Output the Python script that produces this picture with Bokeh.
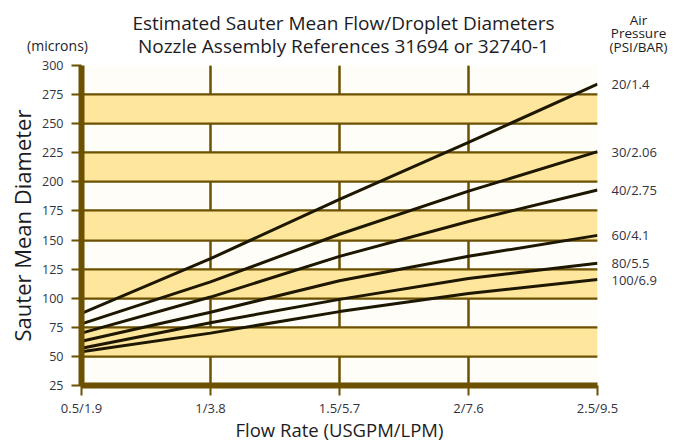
from bokeh.plotting import figure
from bokeh.models import FixedTicker, Range1d, Grid, LinearAxis
from bokeh.layouts import column
from bokeh.core.properties import value
from bokeh.embed import file_html
from bokeh.resources import INLINE

# ---- data ----
flow = [0.5, 1.0, 1.5, 2.0, 2.5]
x_tick_labels = ["0.5/1.9", "1/3.8", "1.5/5.7", "2/7.6", "2.5/9.5"]
y_ticks = [25, 50, 75, 100, 125, 150, 175, 200, 225, 250, 275, 300]

pressures = ["20/1.4", "30/2.06", "40/2.75", "60/4.1", "80/5.5", "100/6.9"]
smd_20 = [87, 134, 185, 234, 284]
smd_30 = [78, 114, 155, 192, 226]
smd_40 = [70, 101, 136, 166, 193]
smd_60 = [63, 88, 115, 136, 154]
smd_80 = [57, 79, 99, 117, 130]
smd_100 = [54, 70, 88.5, 104, 116]
series = [smd_20, smd_30, smd_40, smd_60, smd_80, smd_100]

title_lines = ["Estimated Sauter Mean Flow/Droplet Diameters",
               "Nozzle Assembly References 31694 or 32740-1"]
legend_title = ["Air", "Pressure", "(PSI/BAR)"]
unit_label = "(microns)"

# ---- style ----
FONT = "Open Sans"
GRID = "#6b5100"
GOLD = "#f0c020"
BAND = "#ffe69d"
TXT = "#33333f"
DARK = "#1c1c24"
W = 684
TOP_H = 57

# ---- header strip (titles, units, legend heading) ----
head = figure(width=W, height=TOP_H, x_range=Range1d(0, W), y_range=Range1d(TOP_H, 0),
              min_border=0, output_backend="svg", toolbar_location=None)
try:
    head.frame_align = False
except Exception:
    pass
head.axis.visible = False
head.grid.visible = False
head.outline_line_color = None
head.background_fill_color = "white"
head.border_fill_color = "white"
head.text(x=[343, 343], y=[22, 45], text=title_lines, text_align="center", text_baseline="middle",
          text_font=value(FONT), text_font_size="19px", text_color=DARK)
head.text(x=[57], y=[45], text=[unit_label], text_align="center", text_baseline="middle",
          text_font=value(FONT), text_font_size="14px", text_color=DARK)
head.text(x=[638, 638, 638], y=[19, 32.5, 46.5], text=legend_title, text_align="center",
          text_baseline="middle", text_font=value(FONT), text_font_size="13.5px", text_color=DARK)

# ---- main chart ----
p = figure(width=W, height=444 - TOP_H, x_range=Range1d(0.5, 2.5), y_range=Range1d(25, 300),
           min_border_left=81, min_border_right=87, min_border_top=8, min_border_bottom=57,
           output_backend="svg", toolbar_location=None)
try:
    p.frame_align = False
except Exception:
    pass
p.background_fill_color = "#fffdf8"
p.border_fill_color = "white"
p.outline_line_color = None

# gold halo grids underneath
p.add_layout(Grid(dimension=0, ticker=FixedTicker(ticks=flow), grid_line_color=GOLD, grid_line_width=4))
p.add_layout(Grid(dimension=1, ticker=FixedTicker(ticks=y_ticks), grid_line_color=GOLD, grid_line_width=4,
                  band_fill_color=BAND, band_fill_alpha=1.0))

p.xgrid.ticker = FixedTicker(ticks=flow)
p.ygrid.ticker = FixedTicker(ticks=y_ticks)
for g in (p.xgrid, p.ygrid):
    g.grid_line_color = GRID
    g.grid_line_width = 2
    g.grid_line_alpha = 1.0

# axes
p.xaxis.ticker = FixedTicker(ticks=flow)
p.xaxis.major_label_overrides = {t: l for t, l in zip(flow, x_tick_labels)}
p.yaxis.ticker = FixedTicker(ticks=y_ticks)
for ax in (p.xaxis[0], p.yaxis[0]):
    ax.axis_line_color = GRID
    ax.axis_line_width = 6
    ax.major_tick_line_color = GRID
    ax.major_tick_line_width = 2
    ax.major_tick_in = 0
    ax.minor_tick_line_color = None
    ax.major_label_text_font = FONT
    ax.major_label_text_color = TXT
    ax.axis_label_text_font = FONT
    ax.axis_label_text_font_style = "normal"
    ax.axis_label_text_color = DARK
p.xaxis.major_tick_out = 10
p.xaxis.major_label_standoff = 3
p.xaxis.major_label_text_font_size = "13px"
p.xaxis.axis_label = "Flow Rate (USGPM/LPM)"
p.xaxis.axis_label_text_font_size = "18.5px"
p.xaxis.axis_label_standoff = -3
p.yaxis.major_tick_out = 10
p.yaxis.major_label_standoff = 8
p.yaxis.major_label_text_font_size = "12.5px"
p.yaxis.axis_label = "Sauter Mean Diameter"
p.yaxis.axis_label_text_font_size = "22px"
p.yaxis.axis_label_standoff = 2

# pressure labels on a right-hand axis at each curve's end value
end_values = [s[-1] for s in series]
right = LinearAxis(ticker=FixedTicker(ticks=end_values),
                   major_label_overrides={v: n for v, n in zip(end_values, pressures)},
                   axis_line_color=None, major_tick_out=0, major_tick_in=0, minor_tick_line_color=None,
                   major_label_standoff=14, major_label_text_font=FONT, major_label_text_font_size="13px",
                   major_label_text_color=TXT)
p.add_layout(right, "right")

# curves
for s in series:
    p.line(flow, s, line_color="#1e1700", line_width=3)

layout = column(head, p, spacing=0)
open("out.html", "w").write(file_html(layout, INLINE))
